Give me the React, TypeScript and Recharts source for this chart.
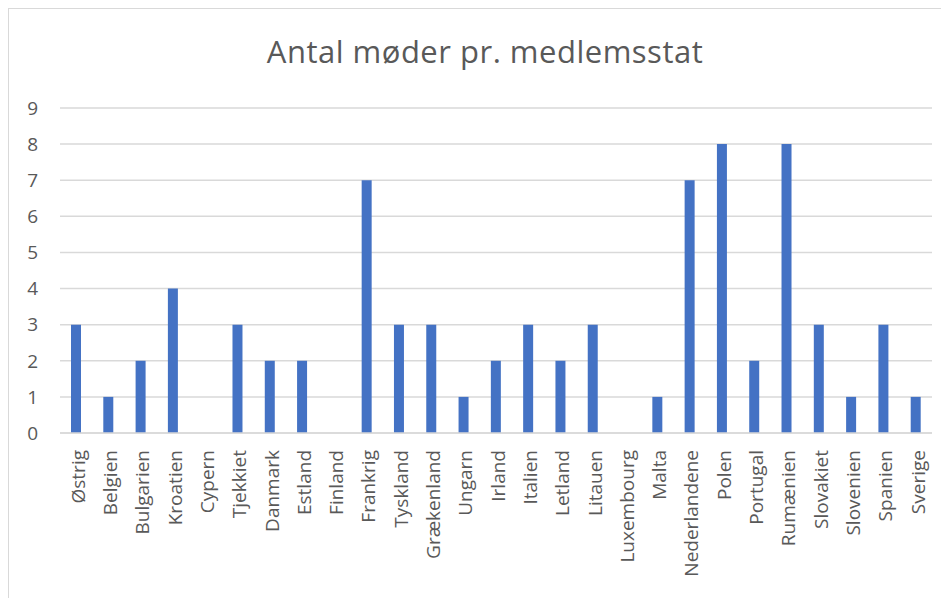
import React from "react";
import { BarChart, Bar, XAxis, YAxis, CartesianGrid } from "recharts";

const countries = [
  "Østrig", "Belgien", "Bulgarien", "Kroatien", "Cypern", "Tjekkiet", "Danmark", "Estland", "Finland",
  "Frankrig", "Tyskland", "Grækenland", "Ungarn", "Irland", "Italien", "Letland", "Litauen", "Luxembourg",
  "Malta", "Nederlandene", "Polen", "Portugal", "Rumænien", "Slovakiet", "Slovenien", "Spanien", "Sverige",
];
const meetings = [3, 1, 2, 4, 0, 3, 2, 2, 0, 7, 3, 3, 1, 2, 3, 2, 3, 0, 1, 7, 8, 2, 8, 3, 1, 3, 1];
const yTicks = [0, 1, 2, 3, 4, 5, 6, 7, 8, 9];
const title = "Antal møder pr. medlemsstat";

const data = countries.map((c, i) => ({ country: c, value: meetings[i] }));

const FONT = "'Open Sans', sans-serif";
const TEXT = "#595959";
const GRID = "#d9d9d9";

const RotTick = (props: any) => {
  const { x, y, payload } = props;
  return (
    <g transform={`translate(${x + 2},${y + 17})`}>
      <text
        transform="rotate(-90)"
        textAnchor="end"
        dy="0.35em"
        fill={TEXT}
        fontSize={19}
        fontFamily={FONT}
      >
        {payload.value}
      </text>
    </g>
  );
};

export default function App() {
  return (
    <div
      style={{
        position: "relative",
        width: 960,
        height: 600,
        border: `1px solid ${GRID}`,
        background: "#fff",
      }}
    >
      <div
        style={{
          position: "absolute",
          left: 0,
          width: 952,
          top: 22,
          textAlign: "center",
          fontFamily: FONT,
          fontSize: 31,
          letterSpacing: 0.5,
          color: TEXT,
          lineHeight: "40px",
        }}
      >
        {title}
      </div>
      <BarChart
        width={940}
        height={590}
        data={data}
        margin={{ top: 99, right: 17, bottom: 0, left: 0 }}
        barCategoryGap={0}
      >
        <CartesianGrid vertical={false} stroke={GRID} strokeWidth={1.5} />
        <XAxis
          dataKey="country"
          interval={0}
          tickLine={false}
          axisLine={{ stroke: GRID, strokeWidth: 1.5 }}
          tick={<RotTick />}
          height={166}
          tickSize={0}
          tickMargin={0}
        />
        <YAxis
          width={51}
          domain={[0, 9]}
          ticks={yTicks}
          interval={0}
          tickLine={false}
          axisLine={false}
          tickMargin={16}
          tick={{ fill: TEXT, fontSize: 19, fontFamily: FONT }}
        />
        <Bar dataKey="value" fill="#4472C4" barSize={10} isAnimationActive={false} />
      </BarChart>
    </div>
  );
}
